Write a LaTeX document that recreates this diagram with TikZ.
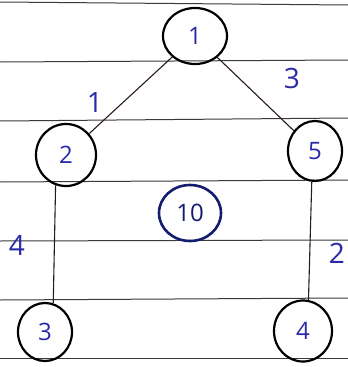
\documentclass[tikz,border=0pt]{standalone}
\usepackage{fontspec}
\setmainfont{Open Sans}
\usetikzlibrary{shapes.geometric}
\definecolor{ink}{HTML}{2A2AA8}
\definecolor{navy}{HTML}{141C6E}
\definecolor{rule}{HTML}{3A3A3A}
\definecolor{edgec}{HTML}{2B1A1A}
\begin{document}
\begin{tikzpicture}[x=1pt,y=-1pt,
  vert/.style={ellipse,draw=black,line width=2.2pt,text=ink,font=\fontsize{24}{24}\selectfont,inner sep=0pt},
  lbl/.style={text=ink,font=\fontsize{28}{28}\selectfont,inner sep=0pt},
  edgeline/.style={draw=edgec,line width=1.1pt},
  ruled/.style={draw=rule,line width=1pt}]
\useasboundingbox (0,0) rectangle (348,367);
\fill[white] (0,0) rectangle (348,367);
% ruled lines
\foreach \y/\z in {2/5, 62/60, 121/118, 182/180, 241/240, 300/298, 358/358}
  \draw[ruled] (0,\y) -- (348,\z);
% vertices
\node[vert,minimum width=64pt,minimum height=56pt] (n1) at (195,36) {1};
\node[vert,minimum width=60pt,minimum height=62pt] (n2) at (66,155) {2};
\node[vert,minimum width=54pt,minimum height=60pt] (n5) at (315,151) {5};
\node[vert,minimum width=54pt,minimum height=58pt] (n3) at (45,332) {3};
\node[vert,minimum width=58pt,minimum height=61pt] (n4) at (303,331) {4};
\node[ellipse,draw=navy,line width=2.6pt,text=navy,font=\fontsize{24}{24}\selectfont,minimum width=62pt,minimum height=56pt,inner sep=0pt] (n10) at (190,213) {10};
% edges
\draw[edgeline] (n1) -- (n2);
\draw[edgeline] (n1) -- (n5);
\draw[edgeline] (n2.-109) -- (n3.74);
\draw[edgeline] (n5.-96) -- (n4.80);
% weights
\node[lbl] (w1) at (95,103) {1};
\node[lbl] (w3) at (292,78) {3};
\node[lbl] (w4) at (17,245) {4};
\node[lbl] (w2) at (337,253) {2};
\end{tikzpicture}
\end{document}
